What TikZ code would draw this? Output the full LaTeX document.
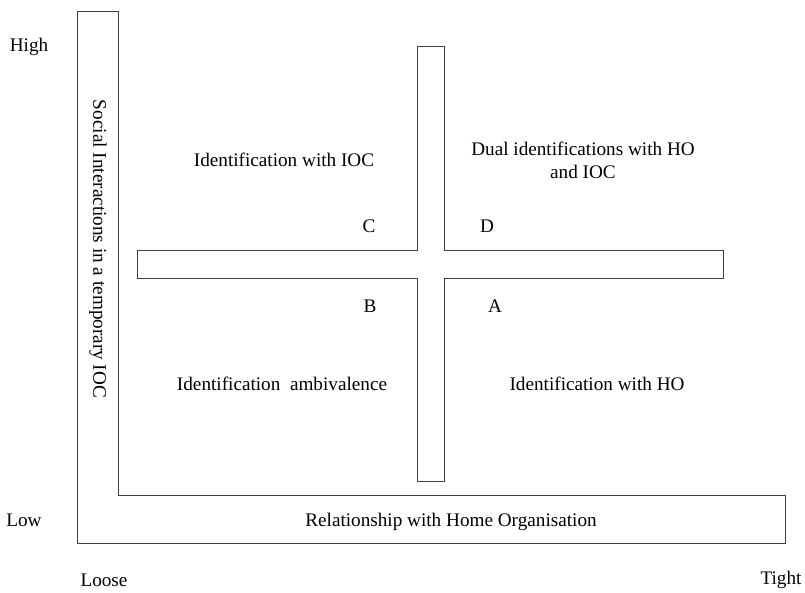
\documentclass[tikz,border=0pt]{standalone}
\usepackage{fontspec}
\setmainfont{Liberation Serif}
\usepackage{tikz}
\usetikzlibrary{positioning}

\tikzset{
  frame/.style={line width=0.9pt, draw=black!75},
  lbl/.style={inner sep=0pt, font=\fontsize{19.2}{23}\selectfont, align=center}
}

\begin{document}
\begin{tikzpicture}[x=1pt, y=-1pt]
\useasboundingbox (0,0) rectangle (805,593);
% L-shaped axis bars
\draw[frame] (77,11) -- (118,11) -- (118,495) -- (785,495) -- (785,543) -- (77,543) -- cycle;
% central cross
\draw[frame] (417,46) -- (444,46) -- (444,250) -- (723,250) -- (723,278) -- (444,278)
  -- (444,481) -- (417,481) -- (417,278) -- (137,278) -- (137,250) -- (417,250) -- cycle;
% axis texts
\node[lbl, rotate=-90] (yaxis) at (98,249) {Social Interactions in a temporary IOC};
\node[lbl] (xaxis) at (451,522) {Relationship with Home Organisation};
\node[lbl] (high) at (29,47) {High};
\node[lbl] (low) at (24,520) {Low};
\node[lbl] (loose) at (104,580) {Loose};
\node[lbl] (tight) at (781,580) {Tight};
% quadrant letters
\foreach \n/\x/\y in {C/369/226, D/487/226, B/370/306, A/495/306}{
  \node[lbl] (q\n) at (\x,\y) {\n};
}
% quadrant texts
\node[lbl] (ioc) at (284,160) {Identification with IOC};
\node[lbl] (dual) at (583,160) {Dual identifications with HO\\and IOC};
\node[lbl] (amb) at (282,384) {Identification\ \ ambivalence};
\node[lbl] (ho) at (597,384) {Identification with HO};
\end{tikzpicture}
\end{document}
